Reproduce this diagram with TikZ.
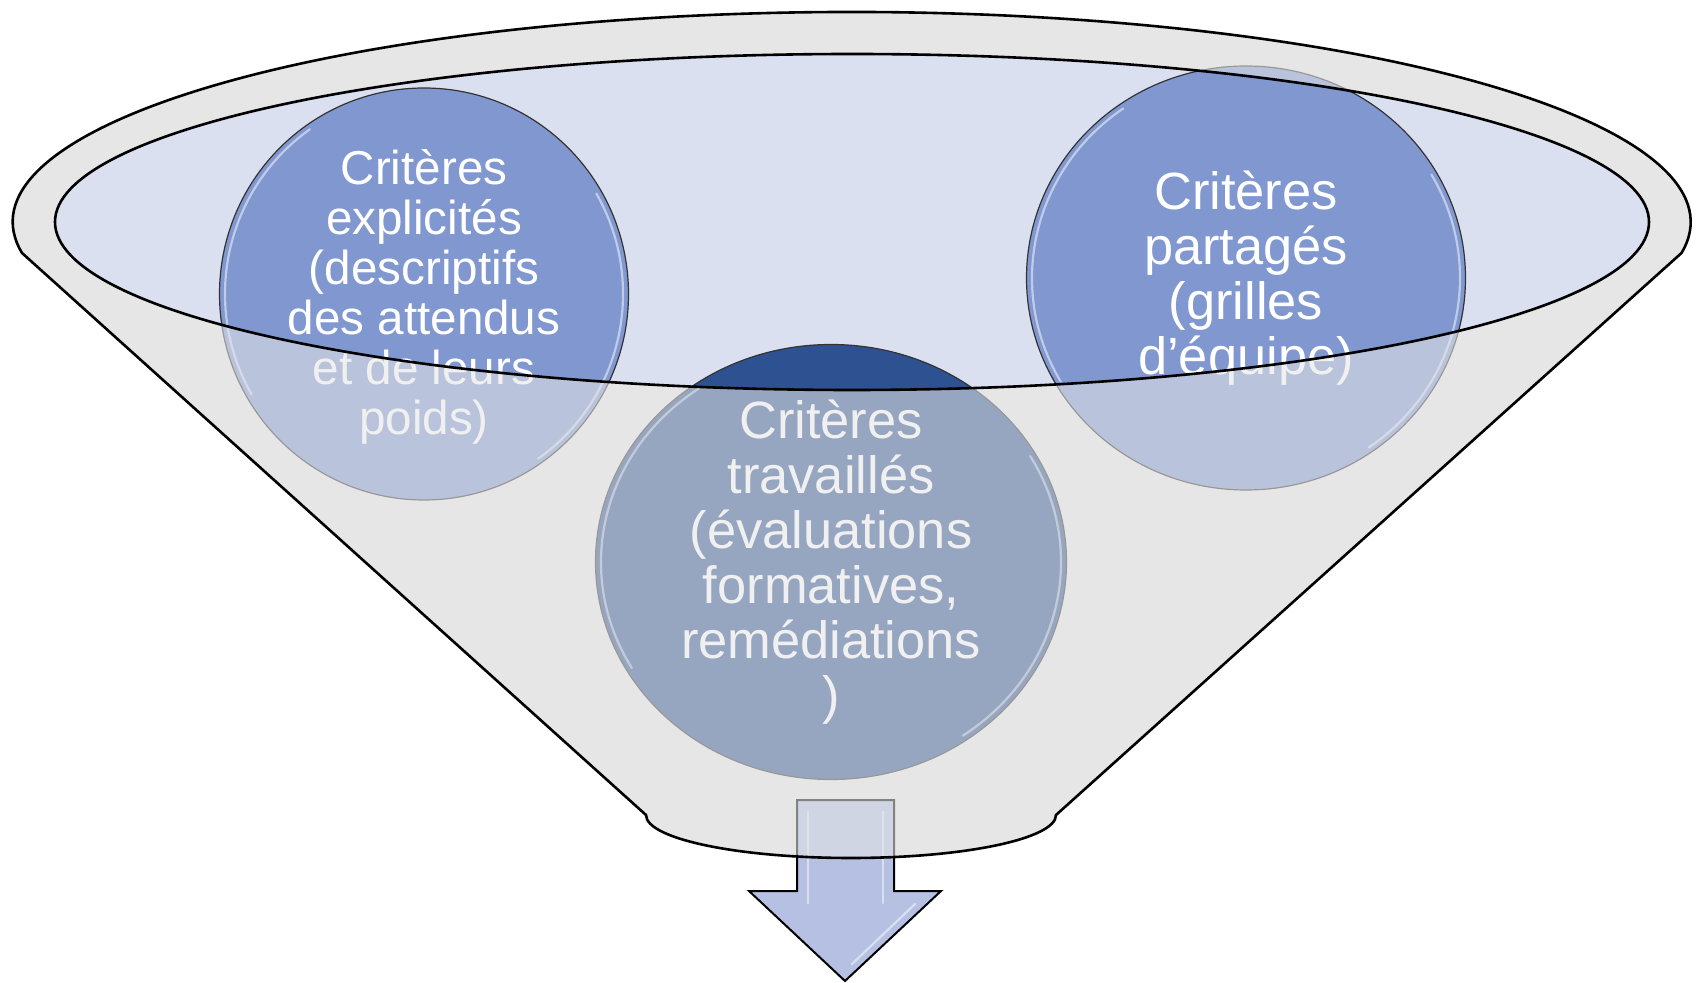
\documentclass[tikz,border=0pt]{standalone}
\usepackage{fontspec}
\setsansfont{Liberation Sans}
\usepackage{tikz}
\usetikzlibrary{shapes.geometric}
\definecolor{FunnelGray}{RGB}{230,230,230}
\definecolor{MouthBlue}{RGB}{218,224,239}
\definecolor{CritBlue}{RGB}{128,151,208}
\definecolor{CritDark}{RGB}{46,82,145}
\definecolor{ArrowBlue}{RGB}{181,192,226}

% outline of the funnel (top rim + sides + bottom lip)
\newcommand\funneloutline{(22,253)
    arc[start angle=171.5, end angle=368.5, x radius=839, y radius=210]
    -- (1056,815)
    arc[start angle=0, end angle=180, x radius=205, y radius=43]
    -- cycle}

\begin{document}
\begin{tikzpicture}[
    x=0.5pt, y=-0.5pt,
    % ── Node styles ──
    crit/.style    = {ellipse, draw=black!80, line width=0.6pt, inner sep=0pt},
    crittxt/.style = {text=white, align=center, inner sep=0pt,
                      font=\sffamily\fontsize{26.2}{27.5}\selectfont},
    glint/.style   = {draw=white, opacity=0.5, line width=1.1pt, line cap=round},
    rim/.style     = {draw=black, line width=1.3pt},
    arrowbox/.style= {fill=ArrowBlue, draw=black, line width=1pt},
]
\useasboundingbox (0,0) rectangle (1698,983);

% =====================================================================
%  FUNNEL BODY AND MOUTH
% =====================================================================
\fill[FunnelGray] \funneloutline;
\fill[MouthBlue] (852,222) ellipse [x radius=797, y radius=168];

% =====================================================================
%  CRITERIA CIRCLES
% =====================================================================
\node[crit, fill=CritBlue, minimum width=204.5pt, minimum height=206pt]
    (explicites) at (424,294) {};
\node[crittxt, font=\sffamily\fontsize{23.8}{25}\selectfont]
    (explicites-txt) at ([yshift=-1.5pt]explicites) {Critères\\explicités\\(descriptifs\\des attendus\\et de leurs\\poids)};

\node[crit, fill=CritBlue, minimum width=219.5pt, minimum height=212pt]
    (partages) at (1246,278) {};
\node[crittxt] (partages-txt) at (partages) {Critères\\partagés\\(grilles\\d’équipe)};

\node[crit, fill=CritDark, minimum width=235.5pt, minimum height=217.5pt]
    (travailles) at (831,562) {};
\node[crittxt] (travailles-txt) at (travailles) {Critères\\travaillés\\(évaluations\\formatives,\\remédiations\\)};

% ── bevel highlights
\begin{scope}[shift={(explicites.center)}]
  \draw[glint] (125:99.5pt and 100.5pt) arc[start angle=125, end angle=210, x radius=99.5pt, y radius=100.5pt];
  \draw[glint] (-55:99.5pt and 100.5pt) arc[start angle=-55, end angle=30, x radius=99.5pt, y radius=100.5pt];
\end{scope}
\begin{scope}[shift={(partages.center)}]
  \draw[glint] (125:107pt and 103.5pt) arc[start angle=125, end angle=210, x radius=107pt, y radius=103.5pt];
  \draw[glint] (-55:107pt and 103.5pt) arc[start angle=-55, end angle=30, x radius=107pt, y radius=103.5pt];
\end{scope}
\begin{scope}[shift={(travailles.center)}]
  \draw[glint] (125:115pt and 106pt) arc[start angle=125, end angle=210, x radius=115pt, y radius=106pt];
  \draw[glint] (-55:115pt and 106pt) arc[start angle=-55, end angle=30, x radius=115pt, y radius=106pt];
\end{scope}

% =====================================================================
%  OUTPUT ARROW
% =====================================================================
\draw[arrowbox] (797,800) -- (894,800) -- (894,891) -- (941,891)
    -- (845,981) -- (749,891) -- (797,891) -- cycle;
\draw[glint] (808,812) -- (808,903);
\draw[glint] (883,812) -- (883,903);
\draw[glint] (915,904) -- (852,964);

% =====================================================================
%  FRONT OF THE FUNNEL (translucent) AND OUTLINES
% =====================================================================
\fill[FunnelGray, opacity=0.57, even odd rule]
    \funneloutline (852,222) ellipse [x radius=797, y radius=168];
\draw[rim] (852,222) ellipse [x radius=797, y radius=168];
\draw[rim] \funneloutline;

\end{tikzpicture}
\end{document}
